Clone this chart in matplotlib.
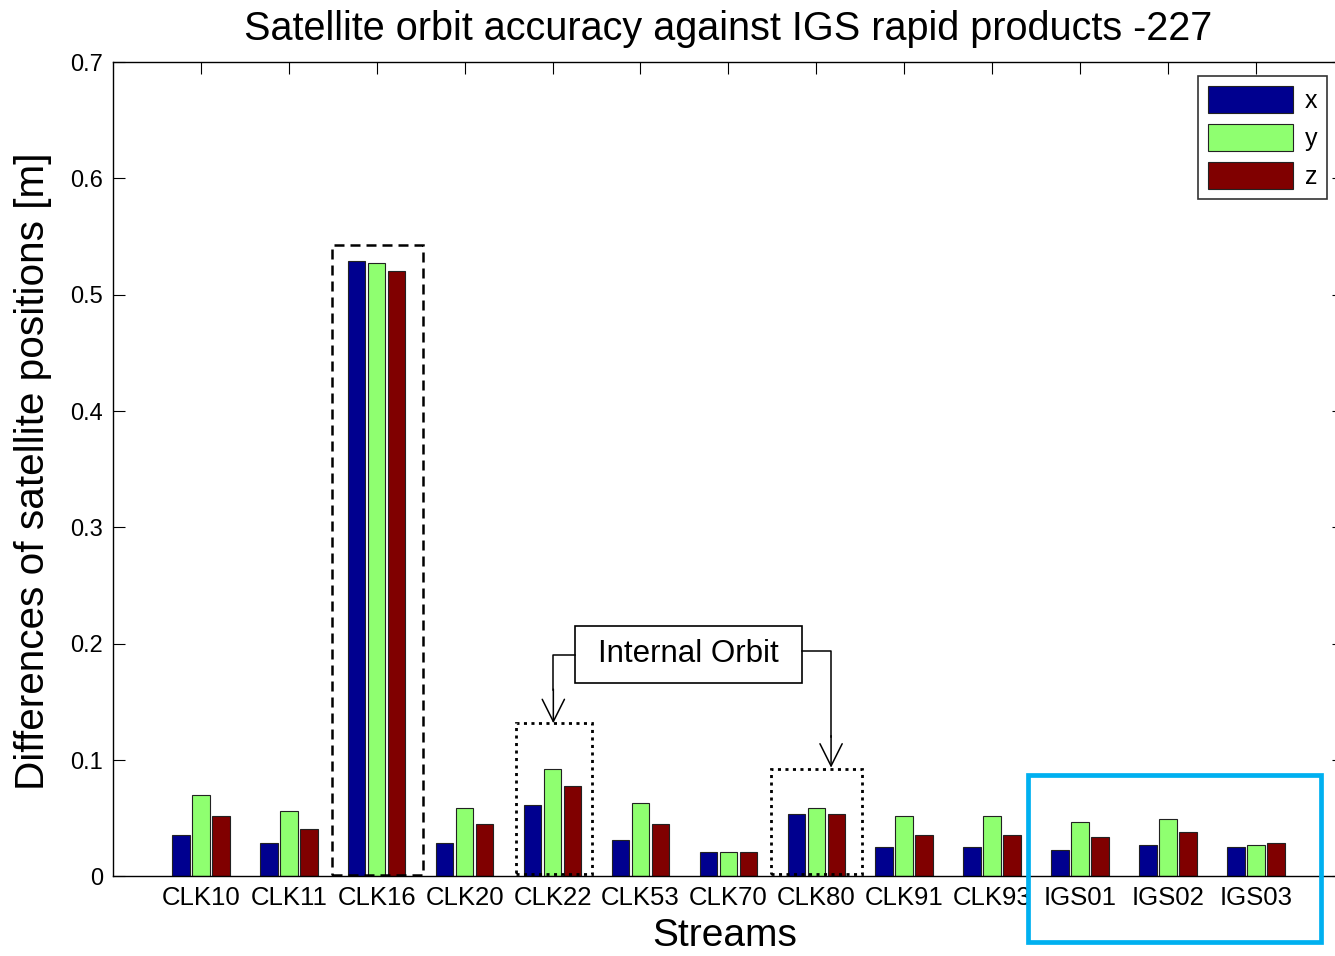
import numpy as np
import matplotlib
matplotlib.use('Agg')
import matplotlib.pyplot as plt
from matplotlib.patches import Rectangle

plt.rcParams['font.family'] = ['Liberation Sans', 'DejaVu Sans']

# Orbit differences per stream, metres
streams = ['CLK10', 'CLK11', 'CLK16', 'CLK20', 'CLK22', 'CLK53', 'CLK70',
           'CLK80', 'CLK91', 'CLK93', 'IGS01', 'IGS02', 'IGS03']
diff_x = [0.036, 0.029, 0.529, 0.029, 0.061, 0.031, 0.021, 0.054, 0.025, 0.025, 0.023, 0.027, 0.025]
diff_y = [0.070, 0.056, 0.527, 0.059, 0.092, 0.063, 0.021, 0.059, 0.052, 0.052, 0.047, 0.049, 0.027]
diff_z = [0.052, 0.041, 0.520, 0.045, 0.078, 0.045, 0.021, 0.054, 0.036, 0.036, 0.034, 0.038, 0.029]
components = ['x', 'y', 'z']
colors = ['#00008F', '#8FFF70', '#800000']

fig = plt.figure(figsize=(13.35, 9.56), dpi=100)
ax = fig.add_axes([0.0846, 0.0832, 0.922, 0.8519])

pos = np.arange(1, len(streams) + 1)
step = 0.2275
width = 0.2
for i, (vals, c, lab) in enumerate(zip([diff_x, diff_y, diff_z], colors, components)):
    ax.bar(pos + (i - 1) * step, vals, width, color=c, edgecolor='#222222',
           linewidth=0.8, label=lab, zorder=2)

ax.set_xlim(0, 14)
ax.set_ylim(0, 0.7)
ax.set_xticks(pos)
ax.set_xticklabels(streams, fontsize=18.5)
ax.set_yticks(np.arange(0, 0.71, 0.1))
ax.set_yticklabels(['0', '0.1', '0.2', '0.3', '0.4', '0.5', '0.6', '0.7'], fontsize=17)
ax.tick_params(axis='x', direction='in', length=8.6, bottom=False, top=True, pad=7)
ax.tick_params(axis='y', direction='in', length=8.6, left=True, right=True, pad=7)
for s in ax.spines.values():
    s.set_linewidth(1.0)

ax.set_title('Satellite orbit accuracy against IGS rapid products -227', fontsize=28.5, pad=16)
fig.text(0.5427, 0.01, 'Streams', fontsize=28, ha='center', va='baseline')
fig.text(0.025, 0.507, 'Differences of satellite positions [m]', fontsize=29.2,
         rotation=90, ha='center', va='center')

leg = ax.legend(loc='upper right', bbox_to_anchor=(1327 / 1335, 1 - 76 / 956),
                bbox_transform=fig.transFigure, borderaxespad=0, fontsize=18,
                handlelength=3.4, handleheight=1.3, labelspacing=0.44,
                handletextpad=0.5, borderpad=0.38, fancybox=False, frameon=True)
leg.get_frame().set_edgecolor('black')
leg.get_frame().set_linewidth(1.2)

# highlight boxes around selected streams
ax.add_patch(Rectangle((2.49, 0.001), 1.04, 0.542, fill=False, edgecolor='black',
                       linewidth=1.8, linestyle=(0, (4, 2.4)), zorder=3, clip_on=False))
for x0, x1, top in [(4.585, 5.445, 0.1317), (7.486, 8.517, 0.0927)]:
    ax.add_patch(Rectangle((x0, 0.002), x1 - x0, top - 0.002, fill=False, edgecolor='black',
                           linewidth=2.0, linestyle=(0, (1.1, 1.6)), zorder=3, clip_on=False))

# "Internal Orbit" callout with elbow arrows
ax.add_patch(Rectangle((5.256, 0.166), 2.579, 0.0495, facecolor='white', edgecolor='black',
                       linewidth=1.2, zorder=4))
ax.text(6.545, 0.191, 'Internal Orbit', fontsize=22.5, ha='center', va='center', zorder=5)
ax.plot([5.256, 5.009, 5.009], [0.1904, 0.1904, 0.16], color='black', linewidth=1.1, zorder=4)
ax.annotate('', xy=(5.009, 0.1317), xytext=(5.009, 0.161),
            arrowprops=dict(arrowstyle='->,head_length=1.6,head_width=0.8', color='black',
                            linewidth=1.1, shrinkA=0, shrinkB=0), zorder=4)
ax.plot([7.835, 8.168, 8.168], [0.194, 0.194, 0.12], color='black', linewidth=1.1, zorder=4)
ax.annotate('', xy=(8.168, 0.0935), xytext=(8.168, 0.121),
            arrowprops=dict(arrowstyle='->,head_length=1.6,head_width=0.8', color='black',
                            linewidth=1.1, shrinkA=0, shrinkB=0), zorder=4)

# IGS group frame
fig.patches.append(Rectangle((0.7703, 0.015), 0.2193, 0.1744, transform=fig.transFigure,
                             fill=False, edgecolor='#00B0F0', linewidth=3.4, zorder=10))

fig.savefig('out.png', dpi=100)
